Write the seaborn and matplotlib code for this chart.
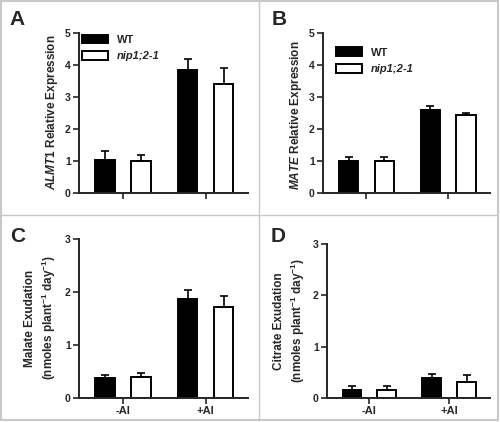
import numpy as np
import pandas as pd
import seaborn as sns
import matplotlib.pyplot as plt
from matplotlib.patches import Patch
from matplotlib.lines import Line2D

# Data (means and upper error)
treatments = ['-Al', '+Al']
genotypes = ['WT', 'nip1;2-1']

almt1_wt = [1.03, 3.85]
almt1_wt_err = [0.28, 0.35]
almt1_nip = [1.00, 3.41]
almt1_nip_err = [0.18, 0.51]

mate_wt = [1.00, 2.60]
mate_wt_err = [0.12, 0.13]
mate_nip = [1.01, 2.43]
mate_nip_err = [0.11, 0.06]

malate_wt = [0.37, 1.87]
malate_wt_err = [0.07, 0.16]
malate_nip = [0.39, 1.72]
malate_nip_err = [0.09, 0.20]

citrate_wt = [0.16, 0.39]
citrate_wt_err = [0.08, 0.08]
citrate_nip = [0.16, 0.32]
citrate_nip_err = [0.07, 0.12]

sns.set_style('ticks')
plt.rcParams['font.family'] = ['Liberation Sans', 'DejaVu Sans']
plt.rcParams['font.weight'] = 'bold'
plt.rcParams['mathtext.fontset'] = 'custom'
plt.rcParams['mathtext.rm'] = 'Liberation Sans:bold'
plt.rcParams['mathtext.bf'] = 'Liberation Sans:bold'
plt.rcParams['mathtext.it'] = 'Liberation Sans:bold:italic'

W, H = 500, 422
fig = plt.figure(figsize=(W / 100, H / 100), dpi=100)


def px_axes(left, right, top, bottom):
    return fig.add_axes([left / W, 1 - bottom / H, (right - left) / W, (bottom - top) / H])


def make_df(wt, wt_err, nip, nip_err):
    return pd.DataFrame({
        'treatment': treatments * 2,
        'genotype': [genotypes[0]] * 2 + [genotypes[1]] * 2,
        'value': wt + nip,
        'err': wt_err + nip_err,
    })


def draw_panel(ax, df, ymax, show_xlabels, legend_anchor=None):
    sns.barplot(data=df, x='treatment', y='value', hue='genotype',
                order=treatments, hue_order=genotypes,
                palette={'WT': 'black', 'nip1;2-1': 'white'},
                edgecolor='black', linewidth=1.4, width=0.87, gap=0.46,
                errorbar=None, legend=False, ax=ax)
    # one-sided error bars on top of each bar
    for cont, g in zip(ax.containers, genotypes):
        errs = df[df.genotype == g].set_index('treatment').loc[treatments, 'err'].values
        for bar, e in zip(cont.patches, errs):
            xc = bar.get_x() + bar.get_width() / 2
            ax.errorbar(xc, bar.get_height(), yerr=[[0], [e]], color='black',
                        lw=1.2, capsize=3, capthick=1.2, zorder=1)
    ax.set_ylim(0, ymax)
    ax.set_yticks(range(ymax + 1))
    ax.set_xlim(-0.53, 1.51)
    sns.despine(ax=ax)
    for s in ['left', 'bottom']:
        ax.spines[s].set_linewidth(1.4)
    ax.tick_params(axis='both', length=4, width=1.2, pad=2, labelsize=7.5)
    ax.set_xlabel('')
    ax.set_ylabel('')
    ax.set_xticks([0, 1])
    if show_xlabels:
        ax.set_xticklabels(treatments, fontsize=8, fontweight='bold')
    else:
        ax.set_xticklabels([])
    for t in ax.get_yticklabels():
        t.set_fontweight('bold')
    if legend_anchor is not None:
        handles = [Patch(facecolor='black', edgecolor='black', lw=1.4),
                   Patch(facecolor='white', edgecolor='black', lw=1.4)]
        leg = ax.legend(handles, ['WT', 'nip1;2-1'], loc='upper left',
                        bbox_to_anchor=legend_anchor, frameon=False,
                        borderaxespad=0, borderpad=0, handlelength=2.3,
                        handleheight=0.85, handletextpad=0.8, labelspacing=0.55,
                        prop={'size': 8, 'weight': 'bold'})
        leg.get_texts()[1].set_style('italic')


axA = px_axes(79, 248, 33, 193)
axB = px_axes(323, 490, 33, 193)
axC = px_axes(79, 248, 239, 398)
axD = px_axes(327, 490, 244, 398)

draw_panel(axA, make_df(almt1_wt, almt1_wt_err, almt1_nip, almt1_nip_err), 5, False, (0.02, 0.99))
draw_panel(axB, make_df(mate_wt, mate_wt_err, mate_nip, mate_nip_err), 5, False, (0.08, 0.91))
draw_panel(axC, make_df(malate_wt, malate_wt_err, malate_nip, malate_nip_err), 3, True)
draw_panel(axD, make_df(citrate_wt, citrate_wt_err, citrate_nip, citrate_nip_err), 3, True)

# y labels
lab = dict(rotation=90, ha='center', va='center', fontsize=8.5, fontweight='bold')
fig.text(52 / W, 1 - 112 / H, r'$\mathit{ALMT1}$ Relative Expression', **lab)
fig.text(296 / W, 1 - 115 / H, r'$\mathit{MATE}$ Relative Expression', **lab)
fig.text(41 / W, 1 - 318 / H, 'Malate Exudation\n(nmoles plant$^{-1}$ day$^{-1}$)',
         linespacing=1.3, **lab)
fig.text(290 / W, 1 - 321 / H, 'Citrate Exudation\n(nmoles plant$^{-1}$ day$^{-1}$)',
         linespacing=1.3, **lab)

# panel letters
for letter, x, y in [('A', 9, 25), ('B', 272, 25), ('C', 10, 242), ('D', 271, 242)]:
    fig.text(x / W, 1 - y / H, letter, fontsize=15, fontweight='bold', va='baseline')

# grey frame and separators
grey = '#c8c8c8'
for xs, ys, lw in [((1, 498), (1, 1), 1.5), ((1, 498), (420, 420), 1.5),
                   ((1, 1), (1, 420), 1.5), ((498, 498), (1, 420), 1.5),
                   ((259, 259), (1, 420), 1.0), ((1, 498), (215, 215), 1.0)]:
    fig.add_artist(Line2D([x / W for x in xs], [1 - y / H for y in ys],
                          color=grey, lw=lw, transform=fig.transFigure))

plt.savefig('out.png', dpi=100)
